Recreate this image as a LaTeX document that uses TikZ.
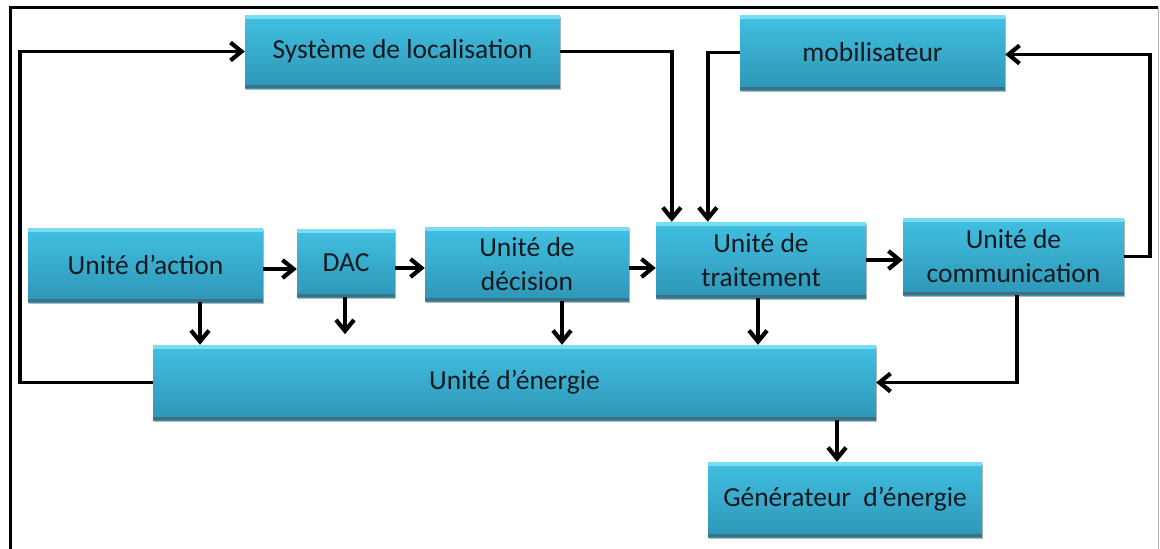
\documentclass[tikz,border=0pt]{standalone}
\usepackage{fontspec}
\setmainfont{Carlito}
\usetikzlibrary{arrows.meta,shadows,calc}
\definecolor{boxtop}{RGB}{66,192,226}
\definecolor{boxbot}{RGB}{46,150,182}
\definecolor{boxhi}{RGB}{120,220,242}
\definecolor{boxlo}{RGB}{62,112,132}
\definecolor{txt}{RGB}{20,25,30}
\tikzset{
  box/.style={rectangle, top color=boxtop, bottom color=boxbot,
    draw=none, text=txt, align=center, inner sep=2pt,
    font=\fontsize{27.5}{34}\selectfont,
    path picture={
      \fill[boxhi] (path picture bounding box.north west) rectangle ([yshift=-4pt]path picture bounding box.north east);
      \fill[boxlo] (path picture bounding box.south west) rectangle ([yshift=3pt]path picture bounding box.south east);
    },
    drop shadow={shadow xshift=0.5pt, shadow yshift=-2pt, fill=black!40, opacity=0.7}},
  arr/.style={line width=3.8pt, -{Straight Barb[length=11pt,width=18pt,line width=4.2pt]}},
}
\begin{document}
\begin{tikzpicture}[x=1pt,y=-1pt]
\useasboundingbox (0,0) rectangle (1160,549);
% frame
\draw[line width=3pt, black] (10,549) -- (10,7) -- (1158,7);
\draw[line width=0.8pt, black!30] (1158,7) -- (1158,549);
% boxes
\node[box, minimum width=315pt, minimum height=73pt] (sys) at (402.5,51.5) {Système de localisation};
\node[box, minimum width=265pt, minimum height=75pt] (mob) at (872.5,52.5) {mobilisateur};
\node[box, minimum width=235pt, minimum height=74pt] (act) at (145.5,265) {Unité d’action};
\node[box, minimum width=98pt, minimum height=68pt] (dac) at (346,263) {DAC};
\node[box, minimum width=204pt, minimum height=74pt] (dec) at (527,264) {Unité de\\décision};
\node[box, minimum width=210pt, minimum height=76pt] (trait) at (761,260) {Unité de\\traitement};
\node[box, minimum width=221pt, minimum height=77pt] (comm) at (1013.5,256.5) {Unité de\\communication};
\node[box, minimum width=723pt, minimum height=75pt] (ener) at (514.5,382.5) {Unité d’énergie};
\node[box, minimum width=274pt, minimum height=75pt] (gen) at (845,499.5) {Générateur\ \ d’énergie};
% connectors
\draw[arr] (ener.west) -- ++(-133,0) |- (sys.west);
\draw[arr] (sys.east) -| ([xshift=16pt]trait.north west);
\draw[arr] (mob.west) -| ([xshift=52pt]trait.north west);
\draw[arr] (comm.east) -- ++(26,0) |- ([yshift=-2pt]mob.east);
\draw[arr] (act.east |- 0,269) -- (dac.west |- 0,269);
\draw[arr] (dac.east |- 0,268) -- (dec.west |- 0,268);
\draw[arr] (dec.east |- 0,268) -- (trait.west |- 0,268);
\draw[arr] (trait.east |- 0,260) -- (comm.west |- 0,260);
\draw[arr] (act.south -| 200,0) -- (ener.north -| 200,0);
\draw[arr] (dac.south -| 345,0) -- ++(0,37);
\draw[arr] (dec.south -| 562,0) -- (ener.north -| 562,0);
\draw[arr] (trait.south -| 758,0) -- (ener.north -| 758,0);
\draw[arr] (comm.south -| 1017,0) |- (ener.east);
\draw[arr] (ener.south -| 837,0) -- (gen.north -| 837,0);
\end{tikzpicture}
\end{document}
